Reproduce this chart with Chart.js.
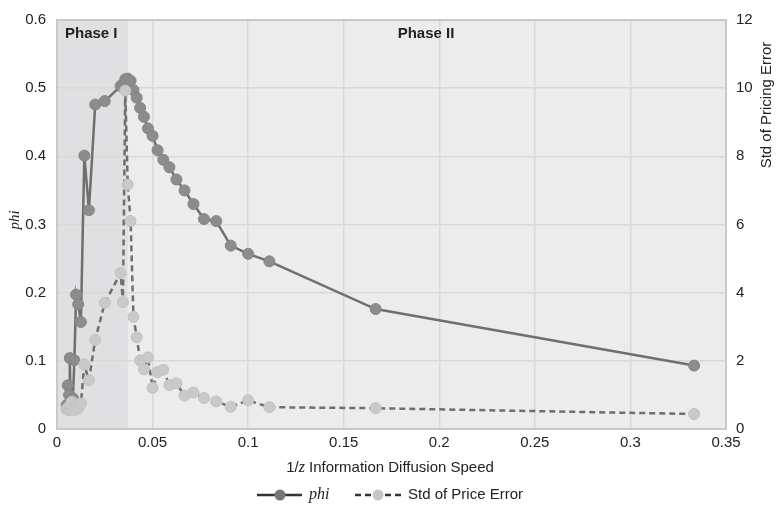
<!DOCTYPE html>
<html>
<head>
<meta charset="utf-8">
<script src="https://cdn.jsdelivr.net/npm/chart.js@4.4.1/dist/chart.umd.min.js"></script>
<style>
    html, body { margin: 0; padding: 0; background: #fff; }
    canvas { display: block; }
</style>
</head>
<body>
<canvas id="chart" width="777" height="512"></canvas>
<script>
// 1/z, information diffusion speed
const diffusionSpeed = [
    0.005, 0.0056, 0.0063, 0.0067, 0.0071, 0.0077, 0.0083, 0.0091, 0.01, 0.0111,
    0.0125, 0.0143, 0.0167, 0.02, 0.025, 0.0333, 0.0345, 0.0357, 0.037, 0.0385,
    0.04, 0.0417, 0.0435, 0.0455, 0.0476, 0.05, 0.0526, 0.0556, 0.0588, 0.0625,
    0.0667, 0.0714, 0.0769, 0.0833, 0.0909, 0.1, 0.1111, 0.1667, 0.3333
];
const phiValues = [
    0.035, 0.064, 0.05, 0.104, 0.04, 0.035, 0.045, 0.101, 0.197, 0.183,
    0.157, 0.401, 0.321, 0.476, 0.481, 0.503, 0.506, 0.513, 0.514, 0.511,
    0.497, 0.486, 0.471, 0.458, 0.441, 0.43, 0.409, 0.395, 0.384, 0.366,
    0.35, 0.33, 0.308, 0.305, 0.269, 0.257, 0.246, 0.176, 0.093
];
const stdPriceError = [
    0.58, 0.62, 0.55, 0.68, 0.58, 0.8, 0.62, 0.55, 0.72, 0.6,
    0.75, 1.89, 1.43, 2.62, 3.7, 4.58, 3.72, 9.93, 7.17, 6.1,
    3.29, 2.69, 2.01, 1.75, 2.1, 1.21, 1.67, 1.74, 1.29, 1.34,
    0.98, 1.07, 0.91, 0.81, 0.65, 0.84, 0.64, 0.61, 0.44
];
const phaseOneEnd = 0.037;
const phaseLabels = ['Phase I', 'Phase II'];

const SANS = '"Liberation Sans", Arial, Helvetica, sans-serif';
const SERIF = '"Liberation Serif", "DejaVu Serif", serif';

const toPoints = ys => diffusionSpeed.map((x, i) => ({ x: x, y: ys[i] }));

const decorPlugin = {
    id: 'decor',
    beforeDraw(chart) {
        const { ctx, chartArea: a, scales: { x } } = chart;
        ctx.save();
        ctx.fillStyle = '#ececec';
        ctx.fillRect(a.left, a.top, a.width, a.height);
        const px = x.getPixelForValue(phaseOneEnd);
        ctx.fillStyle = '#e0e0e3';
        ctx.fillRect(a.left, a.top, px - a.left, a.height);
        ctx.restore();
    },
    beforeDatasetsDraw(chart) {
        const { ctx, chartArea: a } = chart;
        ctx.save();
        ctx.strokeStyle = '#c9c9c9';
        ctx.lineWidth = 2;
        ctx.strokeRect(a.left, a.top, a.width, a.height);

        // phase labels
        ctx.fillStyle = '#222';
        ctx.font = 'bold 15px ' + SANS;
        ctx.textBaseline = 'middle';
        ctx.textAlign = 'left';
        ctx.fillText(phaseLabels[0], a.left + 8, a.top + 14);
        ctx.textAlign = 'center';
        ctx.fillText(phaseLabels[1], 426, a.top + 14);
        ctx.restore();
    },
    afterDraw(chart) {
        const { ctx, chartArea: a } = chart;
        ctx.save();
        ctx.fillStyle = '#222';
        ctx.textBaseline = 'middle';

        // left axis title
        ctx.save();
        ctx.translate(15, 220);
        ctx.rotate(-Math.PI / 2);
        ctx.textAlign = 'center';
        ctx.font = 'italic 15px ' + SERIF;
        ctx.fillText('phi', 0, 0);
        ctx.restore();

        // right axis title
        ctx.save();
        ctx.translate(767, 105);
        ctx.rotate(-Math.PI / 2);
        ctx.textAlign = 'center';
        ctx.font = '15px ' + SANS;
        ctx.fillText('Std of Pricing Error', 0, 0);
        ctx.restore();

        // x axis title: 1/z Information Diffusion Speed
        const parts = [
            ['1/', '15px ' + SANS],
            ['z', 'italic 16px ' + SERIF],
            [' Information Diffusion Speed', '15px ' + SANS]
        ];
        let total = 0;
        parts.forEach(p => { ctx.font = p[1]; total += ctx.measureText(p[0]).width; });
        let tx = 390 - total / 2;
        ctx.textAlign = 'left';
        parts.forEach(p => {
            ctx.font = p[1];
            ctx.fillText(p[0], tx, 468);
            tx += ctx.measureText(p[0]).width;
        });

        // legend
        const ly = 495;
        ctx.lineWidth = 2.5;
        ctx.strokeStyle = '#333';
        ctx.beginPath();
        ctx.moveTo(257, ly); ctx.lineTo(302, ly);
        ctx.stroke();
        ctx.fillStyle = '#777';
        ctx.beginPath();
        ctx.arc(280, ly, 5.5, 0, Math.PI * 2);
        ctx.fill();
        ctx.fillStyle = '#222';
        ctx.font = 'italic 16px ' + SERIF;
        ctx.fillText('phi', 309, ly);

        ctx.setLineDash([6, 4]);
        ctx.strokeStyle = '#333';
        ctx.beginPath();
        ctx.moveTo(355, ly); ctx.lineTo(402, ly);
        ctx.stroke();
        ctx.setLineDash([]);
        ctx.fillStyle = '#c6c6c6';
        ctx.beginPath();
        ctx.arc(378, ly, 5.5, 0, Math.PI * 2);
        ctx.fill();
        ctx.fillStyle = '#222';
        ctx.font = '15px ' + SANS;
        ctx.fillText('Std of Price Error', 408, ly);
        ctx.restore();
    }
};

const chart = new Chart(document.getElementById('chart').getContext('2d'), {
    type: 'line',
    data: {
        datasets: [{
            label: 'phi',
            data: toPoints(phiValues),
            yAxisID: 'y',
            order: 1,
            borderColor: '#6f6f6f',
            borderWidth: 2.5,
            pointBackgroundColor: '#8c8c8c',
            pointBorderColor: '#858585',
            pointBorderWidth: 1,
            pointRadius: 5.5,
            tension: 0
        }, {
            label: 'Std of Price Error',
            data: toPoints(stdPriceError),
            yAxisID: 'y2',
            order: 0,
            borderColor: '#6e6e6e',
            borderWidth: 2.5,
            borderDash: [6, 4],
            pointBackgroundColor: '#c9c9c9',
            pointBorderColor: '#c2c2c2',
            pointBorderWidth: 1,
            pointRadius: 5.5,
            tension: 0
        }]
    },
    options: {
        responsive: false,
        animation: false,
        devicePixelRatio: 1,
        layout: { padding: { top: 9, left: 0, right: 0, bottom: 0 } },
        plugins: {
            legend: { display: false },
            tooltip: { enabled: false }
        },
        scales: {
            x: {
                type: 'linear',
                min: 0,
                max: 0.35,
                border: { display: false },
                grid: { color: '#d8d8d8', lineWidth: 1.5, drawTicks: false },
                ticks: {
                    stepSize: 0.05,
                    padding: 5,
                    color: '#222',
                    font: { family: SANS, size: 15 },
                    maxRotation: 0,
                    callback: v => String(+v.toFixed(2))
                },
                afterFit(s) { s.height = 83; }
            },
            y: {
                position: 'left',
                min: 0,
                max: 0.6,
                border: { display: false },
                grid: { color: '#d8d8d8', lineWidth: 1.5, drawTicks: false },
                ticks: {
                    stepSize: 0.1,
                    padding: 11,
                    color: '#222',
                    font: { family: SANS, size: 15 },
                    callback: v => String(+v.toFixed(1))
                },
                afterFit(s) { s.width = 57; }
            },
            y2: {
                position: 'right',
                min: 0,
                max: 12,
                border: { display: false },
                grid: { drawOnChartArea: false, drawTicks: false },
                ticks: {
                    stepSize: 2,
                    padding: 10,
                    color: '#222',
                    font: { family: SANS, size: 15 }
                },
                afterFit(s) { s.width = 51; }
            }
        }
    },
    plugins: [decorPlugin]
});
</script>
</body>
</html>
